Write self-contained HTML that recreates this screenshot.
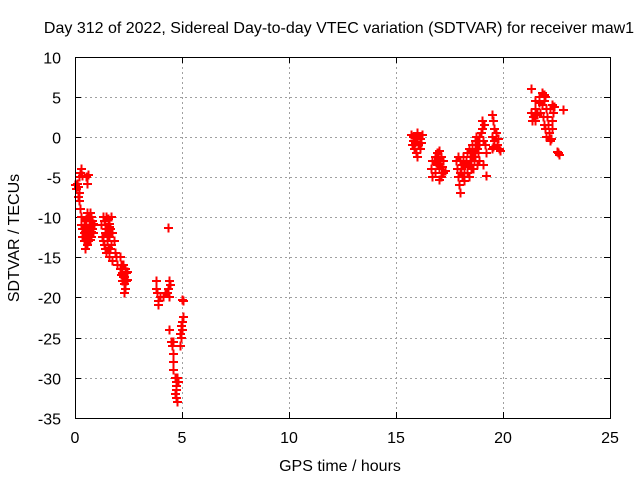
<!DOCTYPE html>
<html><head><meta charset="utf-8"><style>
body{margin:0;background:#fff}
svg{display:block;font-family:"Liberation Sans",sans-serif;font-size:16px}
</style></head><body>
<svg id="chart" width="640" height="480">
<text x="339" y="33" text-anchor="middle">Day 312 of 2022, Sidereal Day-to-day VTEC variation (SDTVAR) for receiver maw1</text>
<text x="340" y="471" text-anchor="middle">GPS time / hours</text>
<text transform="translate(19,238) rotate(-90)" text-anchor="middle">SDTVAR / TECUs</text>
<g id="grid"></g><g id="ticks"></g><g id="pts"></g>
<rect x="75.5" y="57.5" width="535" height="361" fill="none" stroke="#000"/>
</svg>
<script>
const xTicks=[0,5,10,15,20,25];
const yTicks=[10,5,0,-5,-10,-15,-20,-25,-30,-35];
const hours=[0,0.05,0.1,0.15,0.2,0.25,0.3,0.35,0.5,0.6,0.55,0.2,0.2,0.25,0.3,0.3,0.35,0.4,0.4,0.45,0.5,0.5,0.55,0.6,0.6,0.65,0.7,0.7,0.75,0.8,0.8,0.85,0.9,0.6,0.45,0.35,0.55,0.65,0.75,0.5,0.4,0.15,0.45,0.55,0.65,0.75,0.85,0.5,0.7,
1.2,1.3,1.35,1.4,1.45,1.5,1.55,1.6,1.65,1.7,1.75,1.25,1.3,1.35,1.4,1.45,1.5,1.55,1.6,1.65,1.7,1.8,1.85,1.75,1.6,1.9,1.95,2.1,2.15,1.4,1.5,1.6,1.45,1.55,
2.1,2.2,2.25,2.3,2.35,2.4,2.45,2.2,2.25,2.3,2.35,2.3,2.4,2.15,2.45,
3.8,3.85,3.9,3.95,3.8,3.9,4.1,4.2,4.3,4.4,4.35,4.45,4.4,4.35,
4.4,4.5,4.55,4.6,4.6,4.6,4.6,4.65,4.7,4.75,4.7,4.65,4.7,4.75,4.8,4.7,4.9,4.95,5.0,5.0,5.05,4.95,4.9,5.0,5.05,
15.7,15.8,15.9,16.0,16.1,16.2,15.75,15.85,15.95,16.0,16.05,16.1,15.9,16.15,15.8,16.0,
16.7,16.8,16.9,17.0,17.1,17.2,16.65,16.7,16.8,16.9,17.0,17.1,17.2,17.3,17.0,16.95,17.15,16.85,17.05,
17.8,17.85,17.9,17.95,18.0,17.9,18.0,18.05,18.1,18.15,18.2,18.25,18.3,18.35,18.4,18.45,18.5,18.55,18.6,18.65,18.7,18.75,18.8,18.85,18.9,18.95,19.0,19.05,19.1,19.0,18.9,18.8,18.6,18.4,18.2,18.1,18.3,18.5,19.2,19.15,19.2,19.05,18.7,18.9,18.2,18.4,18.6,18.8,18.0,18.3,18.5,18.7,
19.5,19.55,19.6,19.5,19.6,19.7,19.8,19.55,19.65,19.75,19.85,19.5,
21.3,21.3,21.4,21.5,21.6,21.5,21.35,21.6,21.7,21.8,21.9,21.95,22.0,21.8,21.75,21.85,21.9,21.95,22.0,22.1,22.15,22.2,22.25,22.2,22.3,22.35,22.4,22.3,22.3,22.8,22.55,22.6,22.5,21.5,22.05,21.7,21.9];
const values=[-6,-6.5,-5.8,-6.2,-5,-4.5,-4,-4.8,-5,-4.7,-5.8,-7,-8,-9,-10,-11,-11.5,-12,-13,-10.5,-11,-12.5,-13.5,-10,-11.5,-12,-9.5,-11,-12.5,-10.5,-11.5,-12,-11,-13,-14,-12.5,-9.5,-10.5,-10,-13,-11,-7.5,-11.8,-12,-11,-11.8,-10.8,-10.2,-12.8,
-11,-10,-10.5,-11,-10,-11.5,-10.2,-10.8,-11.5,-10,-12,-12.5,-13,-13.5,-14,-14.5,-13,-12,-12.5,-14,-13.5,-13,-14.5,-15.5,-15,-15,-16,-15,-16,-12,-12.2,-11.2,-11.5,-13.8,
-16.5,-17,-16,-17.5,-16.5,-17,-16.8,-18,-17.5,-18.3,-19,-19.5,-18,-17.2,-17.8,
-18,-19.5,-20.5,-20,-19,-21,-20,-19.5,-19.5,-20,-19,-18.5,-18,-11.3,
-24,-25.5,-26,-25.5,-27,-28,-29,-30,-30.5,-30,-31.5,-32,-32.5,-33,-30.5,-31,-26,-25,-24,-23,-22.5,-23.5,-24.5,-20.3,-20.4,
0.3,-0.5,0,0.5,-0.3,0.3,-1,-1.5,-2,-2.5,-1,-1.5,-0.8,-0.8,0,0,
-3,-2.5,-2,-1.8,-2.5,-3,-4,-5,-4.5,-3.5,-4,-5,-4.5,-4.2,-5.3,-2.8,-3.8,-3.2,-3,
-3,-4,-5,-6,-7,-2.5,-3,-4,-3.5,-2.5,-4.5,-3,-2,-3.5,-1.5,-2.5,-4,-1,-2,-3,-1.5,0,-0.5,-2,-1,0.5,1,-0.5,1.5,2,-3,-3.5,-4,-5,-5.5,-5,-4.5,-3,-2,-1,-4.8,-3.5,-2.5,0,-3.5,-3.5,-2.5,-1.5,-4.5,-3.8,-2,-0.5,
2.8,2,1,0,-0.5,-1,-1.5,-1.2,0.5,-0.3,-1.8,-1.5,
6,3,2.5,2,3,3.5,2,2.8,5,5.5,4.5,5,3.5,4,3,2.5,1.5,1,0,1.5,0.5,-0.5,-0.2,3.5,4,3,3.8,2,1,3.4,-2,-2.2,-1.9,4.5,2.5,4.2,5.2];
const X=h=>75+h*21.4, Y=v=>137-v*8.0222;
const NS="http://www.w3.org/2000/svg";
const grid=document.getElementById('grid'),ticks=document.getElementById('ticks'),pts=document.getElementById('pts');
function ln(p,x1,y1,x2,y2,st,dash){const l=document.createElementNS(NS,'line');l.setAttribute('x1',x1);l.setAttribute('y1',y1);l.setAttribute('x2',x2);l.setAttribute('y2',y2);l.setAttribute('stroke',st);if(dash)l.setAttribute('stroke-dasharray',dash);p.appendChild(l);return l;}
function tx(x,y,s,a){const t=document.createElementNS(NS,'text');t.setAttribute('x',x);t.setAttribute('y',y);t.setAttribute('text-anchor',a);t.textContent=s;ticks.appendChild(t);return t;}
xTicks.forEach(v=>{const x=Math.round(X(v))+0.5;
 if(v>0&&v<25){const g=ln(grid,x,57,x,418,'#a0a0a0','2,3');
 
 }
 ln(ticks,x,418,x,412,'#000');ln(ticks,x,57,x,63,'#000');
 const t=tx(X(v),443,String(v),'middle');
 
 });
yTicks.forEach(v=>{const y=Math.round(Y(v))+0.5;
 if(v<10&&v>-35){const g=ln(grid,75,y,610,y,'#a0a0a0','2,3');
 
 }
 ln(ticks,75,y,81,y,'#000');ln(ticks,610,y,604,y,'#000');
 const t=tx(61,y+6,String(v),'end');
 
 });
hours.forEach((h,i)=>{const x=Math.round(X(h)),y=Math.round(Y(values[i]));
 const p=document.createElementNS(NS,'path');
 p.setAttribute('d',`M${x-4} ${y}H${x+5}M${x+0.5} ${y-4.5}V${y+4.5}`);
 p.setAttribute('stroke','#f00');p.setAttribute('stroke-width','2');
 
 
 pts.appendChild(p);});
</script>
</body></html>
